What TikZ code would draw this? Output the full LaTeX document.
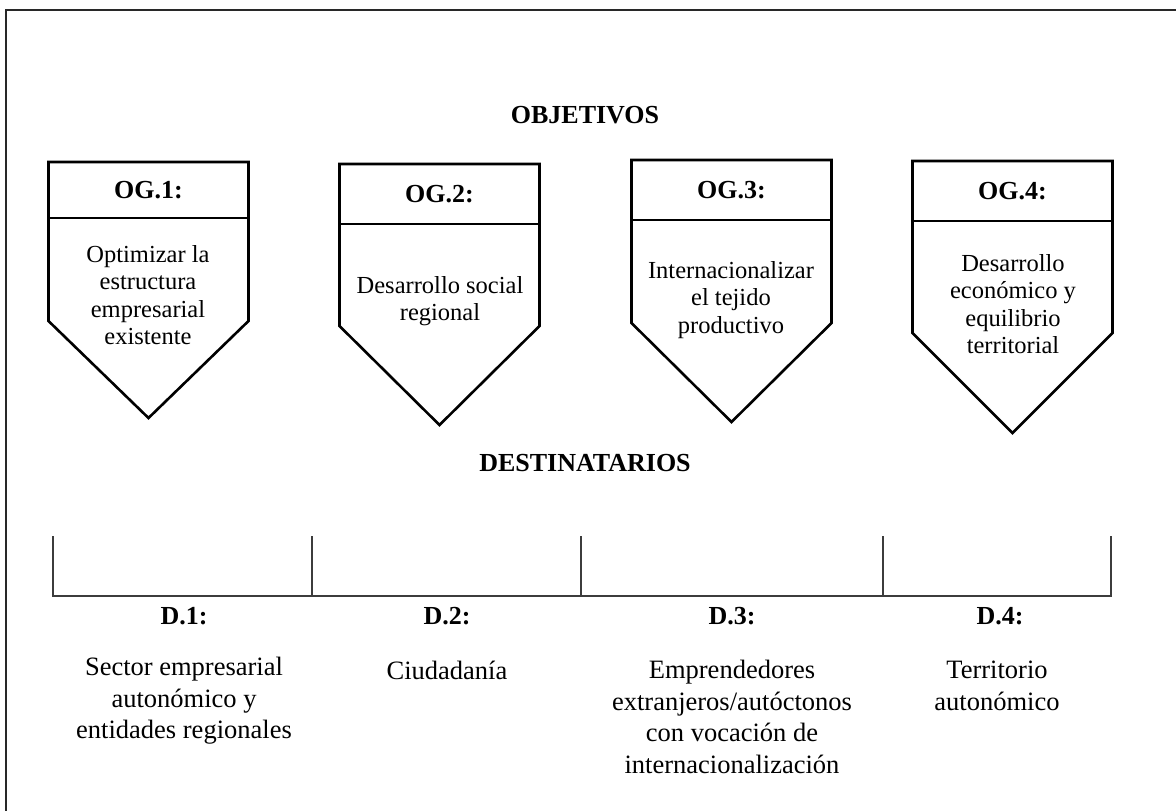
\documentclass[tikz,border=0pt]{standalone}
\usepackage{fontspec}
\setmainfont{Liberation Serif}
\usepackage{xcolor}
\usetikzlibrary{positioning}
\definecolor{framegray}{RGB}{40, 40, 40}
\definecolor{bracketgray}{RGB}{60, 60, 60}

\begin{document}
\begin{tikzpicture}[x=1pt, y=-1pt,
  heading/.style={font=\bfseries\fontsize{26}{30}\selectfont, inner sep=0pt},
  goaltext/.style={font=\fontsize{24.5}{27.5}\selectfont, align=center, inner sep=0pt},
  targettext/.style={font=\fontsize{26.5}{31.5}\selectfont, align=center, inner sep=0pt},
  pentagon/.style={draw=black, line width=2.6pt, line join=miter, fill=white},
  bracketline/.style={draw=bracketgray, line width=2.2pt}]
  \useasboundingbox (0,0) rectangle (1176,811);
  \clip (0,0) rectangle (1176,811);

  % Frame
  \draw[framegray, line width=2pt] (6,9.5) rectangle (1200,840);

  % Titles
  \node[heading] (objetivos) at (585,115) {OBJETIVOS};
  \node[heading] (destinatarios) at (585,463) {DESTINATARIOS};

  % Goal pentagons
  \foreach \cx/\top/\div/\side/\tip/\n in
    {148.5/162/218/321/418/1, 439.5/164/224/326/425/2,
     731.5/160/220/323/422/3, 1012.5/161/221/333/433/4}
  {
    \draw[pentagon] (\cx-100,\top) -- (\cx+100,\top) -- (\cx+100,\side)
      -- (\cx,\tip) -- (\cx-100,\side) -- cycle;
    \draw[black, line width=2.6pt] (\cx-100,\div) -- (\cx+100,\div);
    \node[heading] (og\n) at (\cx,{(\top+\div)/2}) {OG.\n:};
  }
  \node[goaltext] (og1text) at (148,295)
    {Optimizar la\\estructura\\empresarial\\existente};
  \node[goaltext] (og2text) at (440,301) {Desarrollo social\\regional};
  \node[goaltext] (og3text) at (731,300)
    {Internacionalizar\\el tejido\\productivo};
  \node[goaltext] (og4text) at (1013,304)
    {Desarrollo\\económico y\\equilibrio\\territorial};

  % Target bracket
  \draw[bracketline] (53,536) -- (53,596) -- (1111,596) -- (1111,536);
  \foreach \x in {312,581,883} \draw[bracketline] (\x,536) -- (\x,596);

  % Targets
  \foreach \cx/\n in {184/1, 447/2, 732/3, 1000/4}
    \node[heading] (d\n) at (\cx,616) {D.\n:};
  \node[targettext] (d1text) at (184,701)
    {Sector empresarial\\autonómico y\\entidades regionales};
  \node[targettext] (d2text) at (447,670) {Ciudadanía};
  \node[targettext] (d3text) at (732,717)
    {Emprendedores\\extranjeros/autóctonos\\con vocación de\\internacionalización};
  \node[targettext] (d4text) at (997,686) {Territorio\\autonómico};
\end{tikzpicture}
\end{document}
